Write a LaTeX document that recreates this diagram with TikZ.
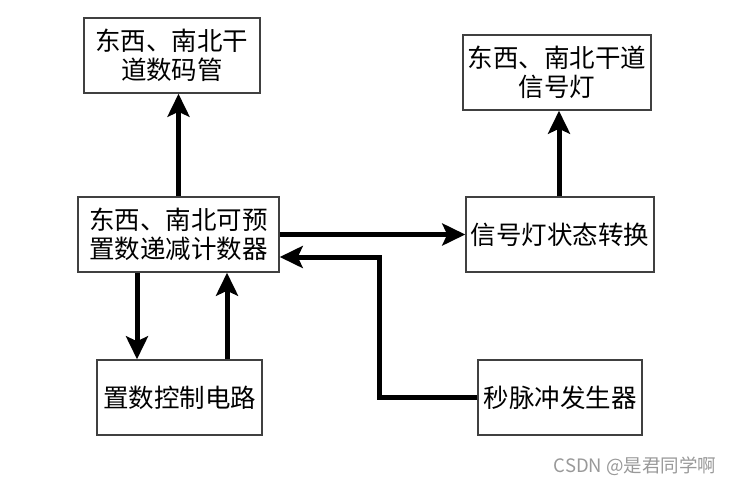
\documentclass[tikz,border=0pt]{standalone}
\usepackage{fontspec}
\newfontfamily\cjk{Noto Sans CJK SC}
\usetikzlibrary{arrows.meta}
\usetikzlibrary{positioning}

\tikzset{
  box/.style={draw=black!75, line width=1.5pt, minimum height=75pt, inner sep=0pt,
    align=center, font=\cjk\fontsize{25.5}{28.5}\selectfont},
  link/.style={line width=5pt, -{Stealth[length=23pt,width=22pt,inset=5pt]}}
}

\begin{document}
\begin{tikzpicture}[x=1pt,y=-1pt]
\useasboundingbox (0,0) rectangle (732,485);
\node[box, minimum width=176pt] (disp) at (172,55.5) {东西、南北干\\道数码管};
\node[box, minimum width=188pt] (light) at (557,72.5) {东西、南北干道\\信号灯};
\node[box, minimum width=201pt] (counter) at (178.5,234.5) {东西、南北可预\\置数递减计数器};
\node[box, minimum width=188pt] (state) at (560,234.5) {信号灯状态转换};
\node[box, minimum width=165pt] (preset) at (179.5,397.5) {置数控制电路};
\node[box, minimum width=164pt] (pulse) at (560,397.5) {秒脉冲发生器};
\node[anchor=east, text=black!40, font=\cjk\fontsize{18.5}{20}\selectfont] (mark) at (720,466) {CSDN @是君同学啊};
\coordinate (bend) at (379,257);
\draw[link] (counter.north) -- (counter.north |- disp.south);
\draw[link] ([xshift=-1pt]state.north) -- ([xshift=-1pt]state.north |- light.south);
\draw[link] (counter.east) -- (state.west);
\draw[link] (pulse.west) -- (pulse.west -| bend) |- ([yshift=-22.5pt]counter.east);
\draw[link] ([xshift=-41.5pt]counter.south) -- ([xshift=-41.5pt]counter.south |- preset.north);
\draw[link] ([xshift=48.5pt]counter.south |- preset.north) -- ([xshift=48.5pt]counter.south);
\end{tikzpicture}
\end{document}
